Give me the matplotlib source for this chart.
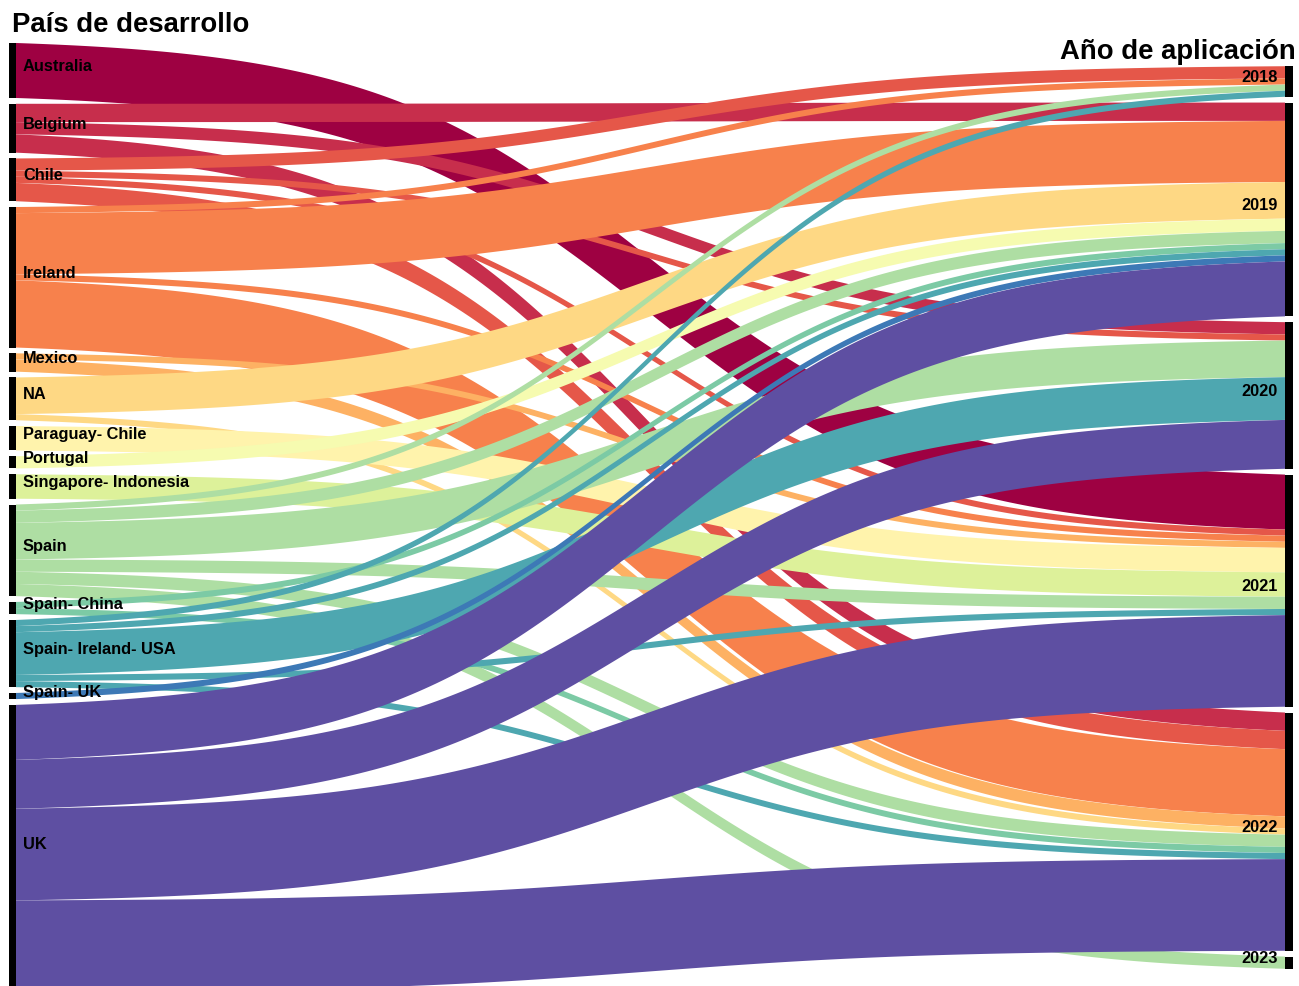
import numpy as np
import matplotlib
matplotlib.use("Agg")
import matplotlib.pyplot as plt
from matplotlib.patches import Rectangle

plt.rcParams['font.family'] = ['Liberation Sans', 'DejaVu Sans']

# nodos: país de desarrollo (izquierda) y año de aplicación (derecha)
countries = ["Australia", "Belgium", "Chile", "Ireland", "Mexico", "NA",
             "Paraguay- Chile", "Portugal", "Singapore- Indonesia", "Spain",
             "Spain- China", "Spain- Ireland- USA", "Spain- UK", "UK"]
years = ["2018", "2019", "2020", "2021", "2022", "2023"]

# aplicaciones por país, una columna por año (2018..2023)
australia = [0, 0, 0, 9, 0, 0]
belgium = [0, 3, 2, 0, 3, 0]
chile = [2, 0, 1, 1, 3, 0]
ireland = [1, 10, 0, 1, 11, 0]
mexico = [0, 0, 0, 1, 2, 0]
na = [0, 6, 0, 0, 1, 0]
paraguay_chile = [0, 0, 0, 4, 0, 0]
portugal = [0, 2, 0, 0, 0, 0]
singapore_indonesia = [0, 0, 0, 4, 0, 0]
spain = [1, 2, 6, 2, 2, 2]
spain_china = [0, 1, 0, 0, 1, 0]
spain_ireland_usa = [1, 1, 7, 1, 1, 0]
spain_uk = [0, 1, 0, 0, 0, 0]
uk = [0, 9, 8, 15, 15, 0]

counts = np.array([australia, belgium, chile, ireland, mexico, na,
                   paraguay_chile, portugal, singapore_indonesia, spain,
                   spain_china, spain_ireland_usa, spain_uk, uk], dtype=float)
n_src, n_tgt = counts.shape
colors = plt.cm.Spectral(np.linspace(0, 1, n_src))

# layout tipo sankey: nodos apilados con hueco, columna derecha centrada
gap = 0.95
src_tot = counts.sum(1)
tgt_tot = counts.sum(0)
h_left = src_tot.sum() + gap * (n_src - 1)
h_right = tgt_tot.sum() + gap * (n_tgt - 1)
src_top = np.concatenate([[0], np.cumsum(src_tot + gap)[:-1]])
tgt_top = (h_left - h_right) / 2 + np.concatenate([[0], np.cumsum(tgt_tot + gap)[:-1]])

x0, x1 = 16, 1285


def sigmoid(ya, yb, smooth=4.5, n=200):
    t = np.linspace(-smooth, smooth, n)
    s = 1 / (1 + np.exp(-t))
    s = (s - s[0]) / (s[-1] - s[0])
    return ya + (yb - ya) * s


fig = plt.figure(figsize=(12.99, 9.87), dpi=100)
ax = fig.add_axes([0, 0, 1, 1])
ppu = (993 - 44) / h_left   # la columna izquierda queda cortada abajo
ax.set_xlim(0, 1299)
ax.set_ylim((987 - 44) / ppu, -44 / ppu)
ax.axis("off")

xs = np.linspace(x0, x1, 200)
for i in range(n_src):
    left_y = src_top[i]
    for j in range(n_tgt):
        v = counts[i, j]
        if v == 0:
            continue
        right_y = tgt_top[j] + counts[:i, j].sum()
        top = sigmoid(left_y, right_y)
        bot = sigmoid(left_y + v, right_y + v)
        ax.fill(np.concatenate([xs, xs[::-1]]), np.concatenate([top, bot[::-1]]),
                color=colors[i], lw=0)
        left_y += v

for i, name in enumerate(countries):
    ax.add_patch(Rectangle((9, src_top[i]), 7, src_tot[i], color="black", lw=0))
    ax.text(23, src_top[i] + src_tot[i] / 2 - 0.8, name, fontsize=11.8,
            fontweight="bold", va="center", ha="left")

for j, yr in enumerate(years):
    ax.add_patch(Rectangle((1285, tgt_top[j]), 8, tgt_tot[j], color="black", lw=0))
    ax.text(1278, tgt_top[j] + tgt_tot[j] / 2 - 0.8, yr, fontsize=11.8,
            fontweight="bold", va="center", ha="right")

fig.text(12 / 1299, 1 - 25 / 987, "País de desarrollo", fontsize=19.8,
         fontweight="bold", va="center", ha="left")
fig.text(1296 / 1299, 1 - 52 / 987, "Año de aplicación", fontsize=19.8,
         fontweight="bold", va="center", ha="right")

fig.savefig("out.png", dpi=100)
